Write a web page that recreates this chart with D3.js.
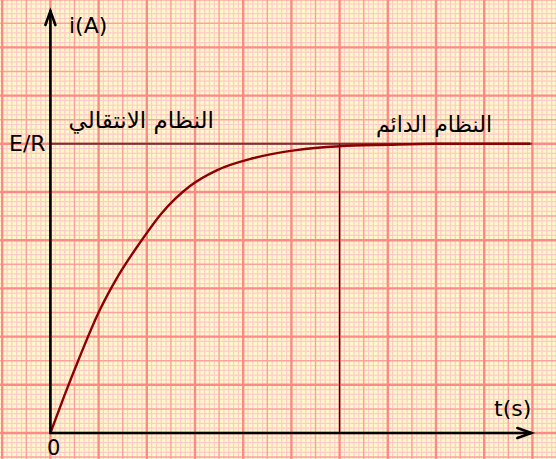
<!DOCTYPE html>
<html>
<head>
<meta charset="utf-8">
<script src="https://cdn.jsdelivr.net/npm/d3@7"></script>
<style>
  body { margin: 0; background: #fff; }
  svg { display: block; }
  text { font-family: "DejaVu Sans", sans-serif; fill: #000; }
</style>
</head>
<body>
<svg id="chart"></svg>
<script>
const width = 556, height = 459;
const unit = 48.2; // one big square of the graph paper
const origin = { x: 50.4, y: 433 };

// Curve, in big-square units
const tValues = [0, 0.3, 0.58, 1.0, 1.4, 1.86, 2.3, 2.89, 3.45, 4.2, 5.1, 6.0, 7.0, 8.0, 9.95];
const iValues = [0, 0.8, 1.51, 2.5, 3.25, 3.95, 4.55, 5.12, 5.45, 5.7, 5.87, 5.95, 5.98, 6.0, 6.0];
const steadyLevel = 6;       // E/R
const steadyTime = 6;        // vertical marker
const axisLabels = { y: "i(A)", x: "t(s)", origin: "0", level: "E/R" };
const regimeLabels = ["النظام الانتقالي", "النظام الدائم"];

const svg = d3.select("#chart")
    .attr("width", width)
    .attr("height", height);

const xScale = d3.scaleLinear()
    .domain([0, 10])
    .range([origin.x, origin.x + 10 * unit]);
const yScale = d3.scaleLinear()
    .domain([0, 9])
    .range([origin.y, origin.y - 9 * unit]);

// Graph paper background
svg.append("rect")
    .attr("width", width)
    .attr("height", height)
    .attr("fill", "#fff8c8");

const grid = svg.append("g");
const xs = d3.range(-20, 121).map(k => k / 10); // steps of 0.1 unit
const ys = d3.range(-10, 101).map(k => k / 10);
const styles = [
    { c: "#ffcaca", w: 1.2 },   // minor
    { c: "#ffa0a0", w: 1.5 },   // half
    { c: "#ff8888", w: 2.4 }    // major
];
function levelOf(k) {
    const r = Math.round(k * 10);
    if (r % 10 === 0) return 2;
    if (r % 5 === 0) return 1;
    return 0;
}
[0, 1, 2].forEach(level => {
    const s = styles[level];
    xs.filter(k => levelOf(k) === level).forEach(k => {
        grid.append("line")
            .attr("x1", xScale(k)).attr("x2", xScale(k))
            .attr("y1", 0).attr("y2", height)
            .attr("stroke", s.c).attr("stroke-width", s.w);
    });
    ys.filter(k => levelOf(k) === level).forEach(k => {
        grid.append("line")
            .attr("y1", yScale(k)).attr("y2", yScale(k))
            .attr("x1", 0).attr("x2", width)
            .attr("stroke", s.c).attr("stroke-width", s.w);
    });
});

// E/R level line
svg.append("line")
    .attr("x1", xScale(0)).attr("x2", xScale(10))
    .attr("y1", yScale(steadyLevel)).attr("y2", yScale(steadyLevel))
    .attr("stroke", "#6a3a3a")
    .attr("stroke-width", 2);

// vertical marker at end of transient regime
svg.append("line")
    .attr("x1", xScale(steadyTime)).attr("x2", xScale(steadyTime))
    .attr("y1", yScale(steadyLevel)).attr("y2", yScale(0))
    .attr("stroke", "#111")
    .attr("stroke-width", 1.3);

// current curve
const data = tValues.map((t, i) => ({ t: t, v: iValues[i] }));
svg.append("path")
    .datum(data)
    .attr("fill", "none")
    .attr("stroke", "#8b0000")
    .attr("stroke-width", 2.4)
    .attr("d", d3.line()
        .x(d => xScale(d.t))
        .y(d => yScale(d.v))
        .curve(d3.curveMonotoneX));

// axes with arrows
const axes = svg.append("g")
    .attr("stroke", "#000")
    .attr("stroke-width", 2.6)
    .attr("fill", "none")
    .attr("stroke-linecap", "round");
axes.append("line")
    .attr("x1", xScale(0)).attr("x2", xScale(0))
    .attr("y1", yScale(0)).attr("y2", 11);
axes.append("path")
    .attr("d", `M${xScale(0) - 5},25 L${xScale(0)},11 L${xScale(0) + 5},25`);
axes.append("line")
    .attr("x1", xScale(0)).attr("x2", xScale(10) - 1)
    .attr("y1", yScale(0)).attr("y2", yScale(0));
axes.append("path")
    .attr("d", `M${xScale(10) - 15},${yScale(0) - 5} L${xScale(10) - 1},${yScale(0)} L${xScale(10) - 15},${yScale(0) + 5}`);

// labels
svg.append("text")
    .attr("x", 69).attr("y", 33)
    .style("font-size", "22px")
    .text(axisLabels.y);
svg.append("text")
    .attr("x", 494).attr("y", 416)
    .style("font-size", "22px")
    .text(axisLabels.x);
svg.append("text")
    .attr("x", 47).attr("y", 455)
    .style("font-size", "21px")
    .text(axisLabels.origin);
svg.append("text")
    .attr("x", 9).attr("y", 151)
    .style("font-size", "22px")
    .text(axisLabels.level);

svg.append("text")
    .attr("x", 214).attr("y", 128)
    .attr("text-anchor", "end")
    .style("font-size", "23px")
    .text(regimeLabels[0]);
svg.append("text")
    .attr("x", 492).attr("y", 132)
    .attr("text-anchor", "end")
    .style("font-size", "22px")
    .text(regimeLabels[1]);
</script>
</body>
</html>
